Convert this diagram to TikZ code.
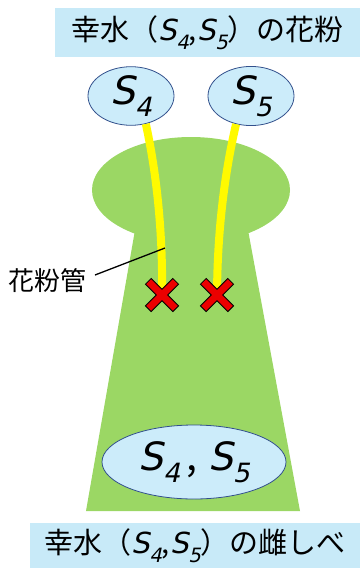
\documentclass[tikz,border=0pt]{standalone}
\usepackage{fontspec}
\setmainfont{Noto Sans CJK JP}
\newfontfamily\slantfont[FakeSlant=0.22]{DejaVu Sans}
\usetikzlibrary{shapes.geometric}

\definecolor{skyfill}{RGB}{200,234,248}
\definecolor{podfill}{RGB}{204,236,250}
\definecolor{podline}{RGB}{50,80,140}
\definecolor{pistil}{RGB}{155,215,100}
\definecolor{tubeyel}{RGB}{255,250,0}
\definecolor{crossred}{RGB}{235,0,0}

% S-allele with its subscript number
\newcommand{\allele}[1]{{\slantfont S\raisebox{-0.32em}{\scalebox{0.68}{#1}}}}

\tikzset{
  banner/.style={fill=skyfill, inner sep=0pt, font=\fontsize{29}{32}\selectfont},
  pollen/.style={ellipse, draw=podline, fill=podfill, line width=0.8pt, inner sep=0pt,
    minimum width=86, minimum height=56, font=\fontsize{39}{41}\selectfont},
  tube/.style={tubeyel, line width=8pt},
}

\begin{document}
\begin{tikzpicture}[x=1pt,y=-1pt]
  \useasboundingbox (0,0) rectangle (360,568);

  %pistil: round stigma on a widening style
  \fill[pistil] (191,190) ellipse [x radius=99, y radius=53];
  \fill[pistil] (135,230) -- (248,230) -- (300,511) -- (86,511) -- cycle;

  %labels at top and bottom
  \node[banner, minimum width=305, minimum height=49] (top) at (207.5,32.5)
    {幸水（\allele{4},\allele{5}）の花粉};
  \node[banner, minimum width=330, minimum height=45] (bot) at (195,545.5)
    {幸水（\allele{4},\allele{5}）の雌しべ};

  %pollen grains
  \node[pollen] (p4) at (131,96) {\allele{4}};
  \node[pollen] (p5) at (251,96) {\allele{5}};

  %pollen tubes, stopping where they are rejected
  \coordinate (x4) at (162,295);
  \coordinate (x5) at (217,295);
  \draw[tube] (p4.-62) .. controls (158,180) and (163,240) .. ([yshift=-4]x4);
  \draw[tube] (p5.-118) .. controls (223,180) and (217,240) .. ([yshift=-4]x5);

  %crosses
  \foreach \c in {x4,x5}{
    \draw[black, line width=9pt] ([shift={(-14,-14)}]\c) -- ([shift={(14,14)}]\c)
      ([shift={(-14,14)}]\c) -- ([shift={(14,-14)}]\c);
    \draw[crossred, line width=7pt] ([shift={(-13.3,-13.3)}]\c) -- ([shift={(13.3,13.3)}]\c)
      ([shift={(-13.3,13.3)}]\c) -- ([shift={(13.3,-13.3)}]\c);
  }

  %ovary side
  \node[pollen, minimum width=184, minimum height=74] (ov) at (194,462)
    {\allele{4}\,,\;\allele{5}};

  %tube label
  \node[font=\fontsize{26}{28}\selectfont, inner sep=0pt] (lbl) at (48,281) {花粉管};
  \coordinate (lblend) at (95,275);
  \coordinate (tp) at (165,248);
  \draw[line width=1.3pt] (lblend) -- (tp);
\end{tikzpicture}
\end{document}
